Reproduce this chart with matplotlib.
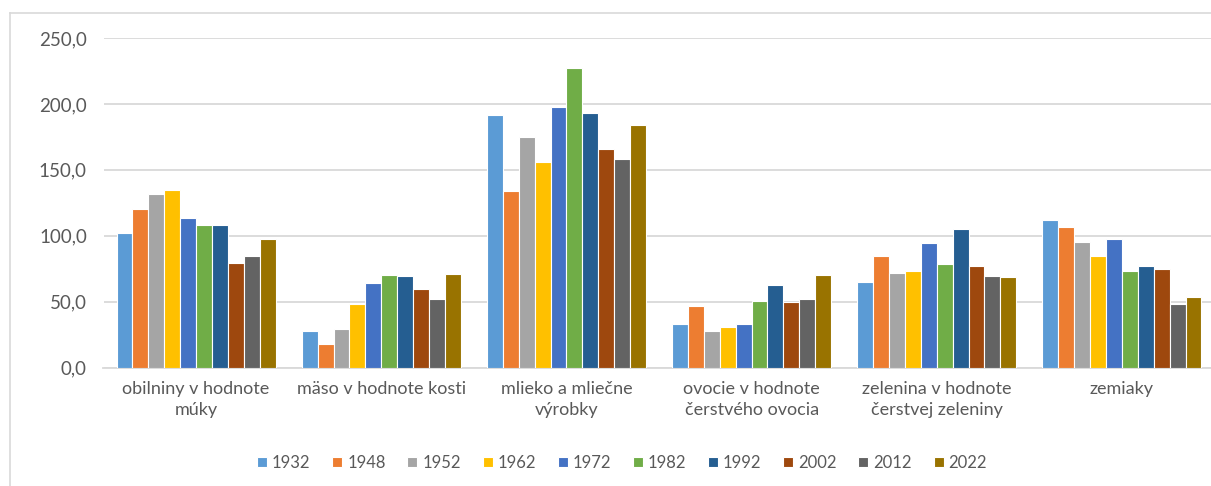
import matplotlib
matplotlib.use("Agg")
import matplotlib.pyplot as plt
from matplotlib.lines import Line2D
from matplotlib.ticker import FuncFormatter
import numpy as np

plt.rcParams['font.family'] = ['Lato', 'DejaVu Sans']

categories = [
    "obilniny v hodnote\nmúky",
    "mäso v hodnote kosti",
    "mlieko a mliečne\nvýrobky",
    "ovocie v hodnote\nčerstvého ovocia",
    "zelenina v hodnote\nčerstvej zeleniny",
    "zemiaky",
]

years = ["1932", "1948", "1952", "1962", "1972", "1982", "1992", "2002", "2012", "2022"]

v1932 = [102.3, 27.8, 191.5, 32.7, 65.0, 111.9]
v1948 = [120.1, 17.5, 134.0, 46.6, 84.6, 106.4]
v1952 = [131.7, 29.3, 174.8, 27.8, 71.4, 95.0]
v1962 = [134.7, 48.1, 156.0, 30.4, 73.2, 84.6]
v1972 = [113.7, 64.3, 197.3, 32.7, 94.2, 97.3]
v1982 = [107.9, 69.9, 227.2, 50.4, 78.7, 73.2]
v1992 = [107.9, 69.1, 193.0, 62.5, 104.9, 77.2]
v2002 = [79.5, 59.3, 165.7, 49.6, 77.2, 74.7]
v2012 = [84.6, 52.1, 158.3, 52.1, 69.1, 48.1]
v2022 = [97.3, 70.9, 184.1, 69.9, 68.4, 53.6]

series = [v1932, v1948, v1952, v1962, v1972, v1982, v1992, v2002, v2012, v2022]

colors = ["#5B9BD5", "#ED7D31", "#A5A5A5", "#FFC000", "#4472C4",
          "#70AD47", "#255E91", "#9E480E", "#636363", "#997300"]

W, H = 1211, 486
fig = plt.figure(figsize=(W / 100, H / 100), dpi=100)
left_px, right_px, top_px, zero_px = 103.5, 1214.5, 38, 367.5
ax = fig.add_axes([left_px / W, 1 - zero_px / H, (right_px - left_px) / W, (zero_px - top_px) / H])

x = np.arange(len(categories))
w = 15.9 / 185.2
n = len(series)
for j, (vals, col, yr) in enumerate(zip(series, colors, years)):
    ax.bar(x + (j - (n - 1) / 2) * w, vals, width=w, color=col,
           edgecolor="white", linewidth=0.8, label=yr, zorder=3)

ax.set_xlim(-0.5, len(categories) - 0.5)
ax.set_ylim(0, 250)
ax.set_yticks(np.arange(0, 251, 50))
ax.yaxis.set_major_formatter(FuncFormatter(lambda v, p: f"{v:.1f}".replace(".", ",")))
ax.grid(axis="y", color="#d9d9d9", linewidth=1.3, zorder=0)
ax.set_axisbelow(True)
for s in ["top", "right", "left"]:
    ax.spines[s].set_visible(False)
ax.spines["bottom"].set_color("#d9d9d9")
ax.spines["bottom"].set_linewidth(1.3)
ax.tick_params(axis="both", length=0, colors="#595959")
ax.tick_params(axis="y", pad=12, labelsize=13.5)
ax.tick_params(axis="x", pad=10, labelsize=13)
ax.set_xticks(x)
ax.set_xticklabels(categories, linespacing=1.35)

leg = fig.legend(loc="center", bbox_to_anchor=(622 / W, 1 - 463 / H), ncol=10,
                 frameon=False, fontsize=12, handlelength=0.6, handleheight=0.6,
                 handletextpad=0.3, columnspacing=1.3)
for t in leg.get_texts():
    t.set_color("#595959")

# outer chart frame: left and top edges
fig.add_artist(Line2D([10 / W, 10 / W], [0, 1 - 13 / H], transform=fig.transFigure,
                      color="#d9d9d9", linewidth=1.2))
fig.add_artist(Line2D([10 / W, 1], [1 - 13 / H, 1 - 13 / H], transform=fig.transFigure,
                      color="#d9d9d9", linewidth=1.2))

fig.savefig("out.png", dpi=100, facecolor="white")
